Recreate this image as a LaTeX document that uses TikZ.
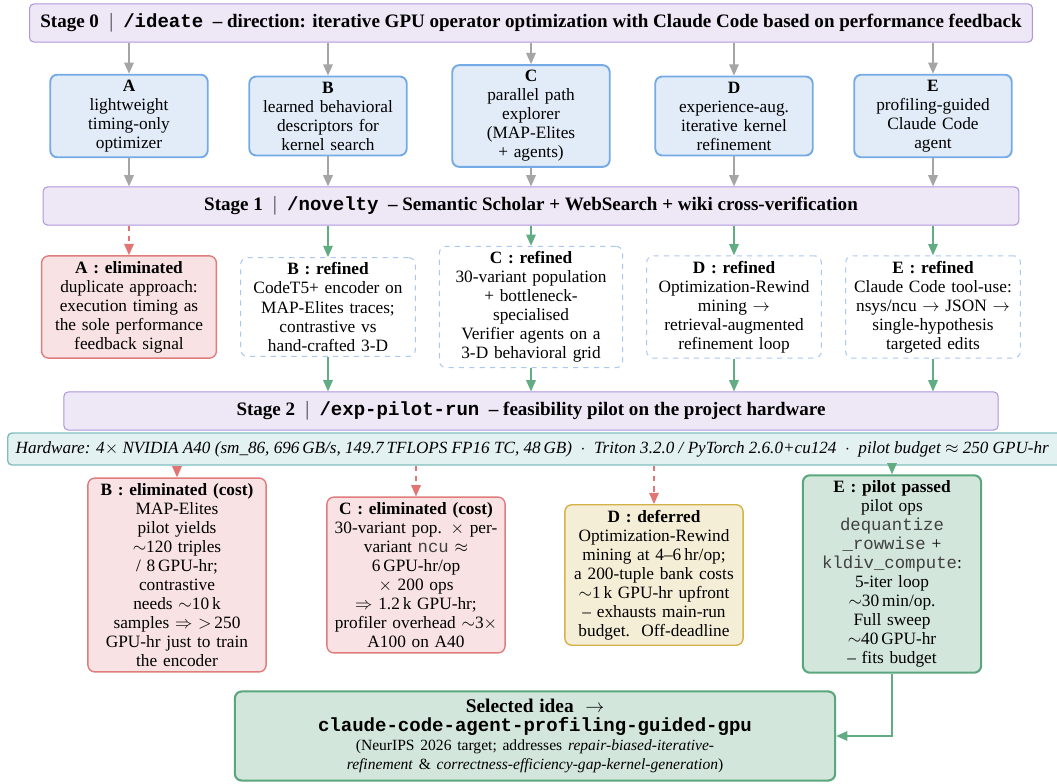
\documentclass[tikz,border=0pt]{standalone}
\usepackage{fontspec}
\setmainfont{Liberation Serif}
\setmonofont{Liberation Mono}
\usepackage{amsmath}
\usepackage{amssymb}
\usetikzlibrary{arrows.meta}
\definecolor{stagefill}{HTML}{EDE7F6}
\definecolor{stagedraw}{HTML}{B095DC}
\definecolor{ideafill}{HTML}{E2ECF8}
\definecolor{ideadraw}{HTML}{74AAE6}
\definecolor{elimfill}{HTML}{F8E2E3}
\definecolor{elimdraw}{HTML}{E07C7C}
\definecolor{refdraw}{HTML}{A9C9EE}
\definecolor{hwfill}{HTML}{E4F1F1}
\definecolor{hwdraw}{HTML}{80BFBF}
\definecolor{deffill}{HTML}{F5EED6}
\definecolor{defdraw}{HTML}{D5B247}
\definecolor{passfill}{HTML}{D3E6DC}
\definecolor{passdraw}{HTML}{5AA67E}
\definecolor{linkgray}{HTML}{A5A5A5}
\definecolor{linkgreen}{HTML}{62AC84}
\definecolor{linkred}{HTML}{E27474}
\newcommand{\stagebar}{\ \ $|$\ \ }
\newcommand{\opname}[1]{{\color{black!75}\texttt{#1}}}
\tikzstyle{stage} = [draw=stagedraw, fill=stagefill, line width=0.6pt, rounded corners=2.5pt, minimum height=22pt, inner sep=0pt, font=\fontsize{11}{12}\selectfont\bfseries]
\tikzstyle{box} = [rounded corners=4pt, align=center, inner xsep=4.5pt, inner ysep=3pt, font=\fontsize{10}{11}\selectfont]
\tikzstyle{idea} = [box, draw=ideadraw, fill=ideafill, line width=1.1pt, text width=82pt]
\tikzstyle{elim} = [box, draw=elimdraw, fill=elimfill, line width=0.8pt, text width=92pt]
\tikzstyle{refined} = [box, draw=refdraw, fill=white, line width=0.6pt, dashed, text width=92pt]
\tikzstyle{costout} = [box, draw=elimdraw, fill=elimfill, line width=0.8pt, text width=94pt]
\tikzstyle{deferred} = [box, draw=defdraw, fill=deffill, line width=0.8pt, text width=94pt]
\tikzstyle{passed} = [box, draw=passdraw, fill=passfill, line width=1.2pt, text width=94pt]
\tikzstyle{hwbar} = [draw=hwdraw, fill=hwfill, line width=0.8pt, rounded corners=2.5pt, minimum height=18.5pt, inner xsep=4.6pt, font=\fontsize{9.9}{10}\selectfont\itshape]
\tikzstyle{graylink} = [draw=linkgray, line width=0.9pt, -{Triangle[width=5.5pt,length=6.5pt]}]
\tikzstyle{greenlink} = [draw=linkgreen, line width=0.9pt, -{Triangle[width=5.5pt,length=6.5pt]}]
\tikzstyle{redlink} = [draw=linkred, line width=0.9pt, dashed, -{Triangle[width=5.5pt,length=6.5pt]}]

\begin{document}
\begin{tikzpicture}[x=0.578pt, y=-0.578pt]
	\useasboundingbox (0,0) rectangle (1057,784);
	\node[stage, minimum width=579.7pt] (s0) at (531,23) {Stage 0\stagebar\texttt{/ideate}\ \ -- direction: iterative GPU operator optimization with Claude Code based on performance feedback};

	\node[idea] (iA) at (129,116) {\textbf{A}\\lightweight\\timing-only\\optimizer};
	\node[idea] (iB) at (328,116) {\textbf{B}\\learned behavioral\\descriptors for\\kernel search};
	\node[idea] (iC) at (531,116) {\textbf{C}\\parallel path\\explorer\\(MAP-Elites\\+ agents)};
	\node[idea] (iD) at (734,116) {\textbf{D}\\experience-aug.\\iterative kernel\\refinement};
	\node[idea] (iE) at (933,116) {\textbf{E}\\profiling-guided\\Claude Code\\agent};

	\node[stage, minimum width=564pt] (s1) at (531,206) {Stage 1\stagebar\texttt{/novelty}\ \ -- Semantic Scholar + WebSearch + wiki cross-verification};

	\node[elim] (rA) at (129,307) {\textbf{A : eliminated}\\duplicate approach:\\execution timing as\\the sole performance\\feedback signal};
	\node[refined] (rB) at (328,307) {\textbf{B : refined}\\CodeT5+ encoder on\\MAP-Elites traces;\\contrastive vs\\hand-crafted 3-D};
	\node[refined, text width=97pt] (rC) at (531,307) {\textbf{C : refined}\\30-variant population\\+ bottleneck-\\specialised\\Verifier agents on a\\3-D behavioral grid};
	\node[refined] (rD) at (734,307) {\textbf{D : refined}\\Optimization-Rewind\\mining $\to$\\retrieval-augmented\\refinement loop};
	\node[refined] (rE) at (933,307) {\textbf{E : refined}\\Claude Code tool-use:\\nsys/ncu $\to$ JSON $\to$\\single-hypothesis\\targeted edits};

	\node[stage, minimum width=540pt] (s2) at (531,411) {Stage 2\stagebar\texttt{/exp-pilot-run}\ \ -- feasibility pilot on the project hardware};

	\foreach \n in {A,B,C,D,E}{
		\draw[graylink] (s0.south -| i\n) -- (i\n);
		\draw[graylink] (i\n) -- (i\n |- s1.north);
	}
	\draw[redlink] (s1.south -| rA) -- (rA);
	\foreach \n in {B,C,D,E}{
		\draw[greenlink] (s1.south -| r\n) -- (r\n);
		\draw[greenlink] (r\n) -- (r\n |- s2.north);
	}

	\node[hwbar, anchor=west] (hw) at (7,449) {Hardware: 4$\times$ NVIDIA A40 (sm\_86, 696\,GB/s, 149.7\,TFLOPS FP16 TC, 48\,GB)\ \ $\cdot$\ \ Triton 3.2.0 / PyTorch 2.6.0+cu124\ \ $\cdot$\ \ pilot budget $\approx$ 250 GPU-hr\hspace*{10pt}};

	\node[costout] (pB) at (177,575) {\textbf{B : eliminated (cost)}\\MAP-Elites\\pilot yields\\$\sim$120 triples\\/ 8\,GPU-hr;\\contrastive\\needs $\sim$10\,k\\samples $\Rightarrow$ $>$\,250\\GPU-hr just to train\\the encoder};
	\node[costout] (pC) at (416,575) {\textbf{C : eliminated (cost)}\\30-variant pop. $\times$ per-\\variant \opname{ncu} $\approx$\\6\,GPU-hr/op\\$\times$ 200 ops\\$\Rightarrow$ 1.2\,k GPU-hr;\\profiler overhead $\sim$3$\times$\\A100 on A40};
	\node[deferred] (pD) at (654,575) {\textbf{D : deferred}\\Optimization-Rewind\\mining at 4--6\,hr/op;\\a 200-tuple bank costs\\$\sim$1\,k GPU-hr upfront\\-- exhausts main-run\\budget.\ \ Off-deadline};
	\node[passed] (pE) at (892,574) {\textbf{E : pilot passed}\\pilot ops\\\opname{dequantize}\\\opname{\_rowwise} +\\\opname{kldiv\_compute}:\\5-iter loop\\$\sim$30\,min/op.\\Full sweep\\$\sim$40\,GPU-hr\\-- fits budget};

	\foreach \n in {B,C,D}{
		\draw[redlink] (hw.south -| p\n) -- (p\n);
	}
	\draw[greenlink] (hw.south -| pE) -- (pE);

	\node[passed, text width=338pt, minimum height=51.5pt] (fin) at (535,736) {{\fontsize{11.2}{12.5}\selectfont\textbf{Selected idea\ \ $\to$}}\\{\fontsize{11}{12.5}\selectfont\texttt{\textbf{claude-code-agent-profiling-guided-gpu}}}\\{\fontsize{9}{12}\selectfont (NeurIPS 2026 target; addresses \textit{repair-biased-iterative-}}\\{\fontsize{9}{12}\selectfont\textit{refinement} \& \textit{correctness-efficiency-gap-kernel-generation})}};
	\draw[greenlink] (pE) |- (fin);
\end{tikzpicture}
\end{document}
